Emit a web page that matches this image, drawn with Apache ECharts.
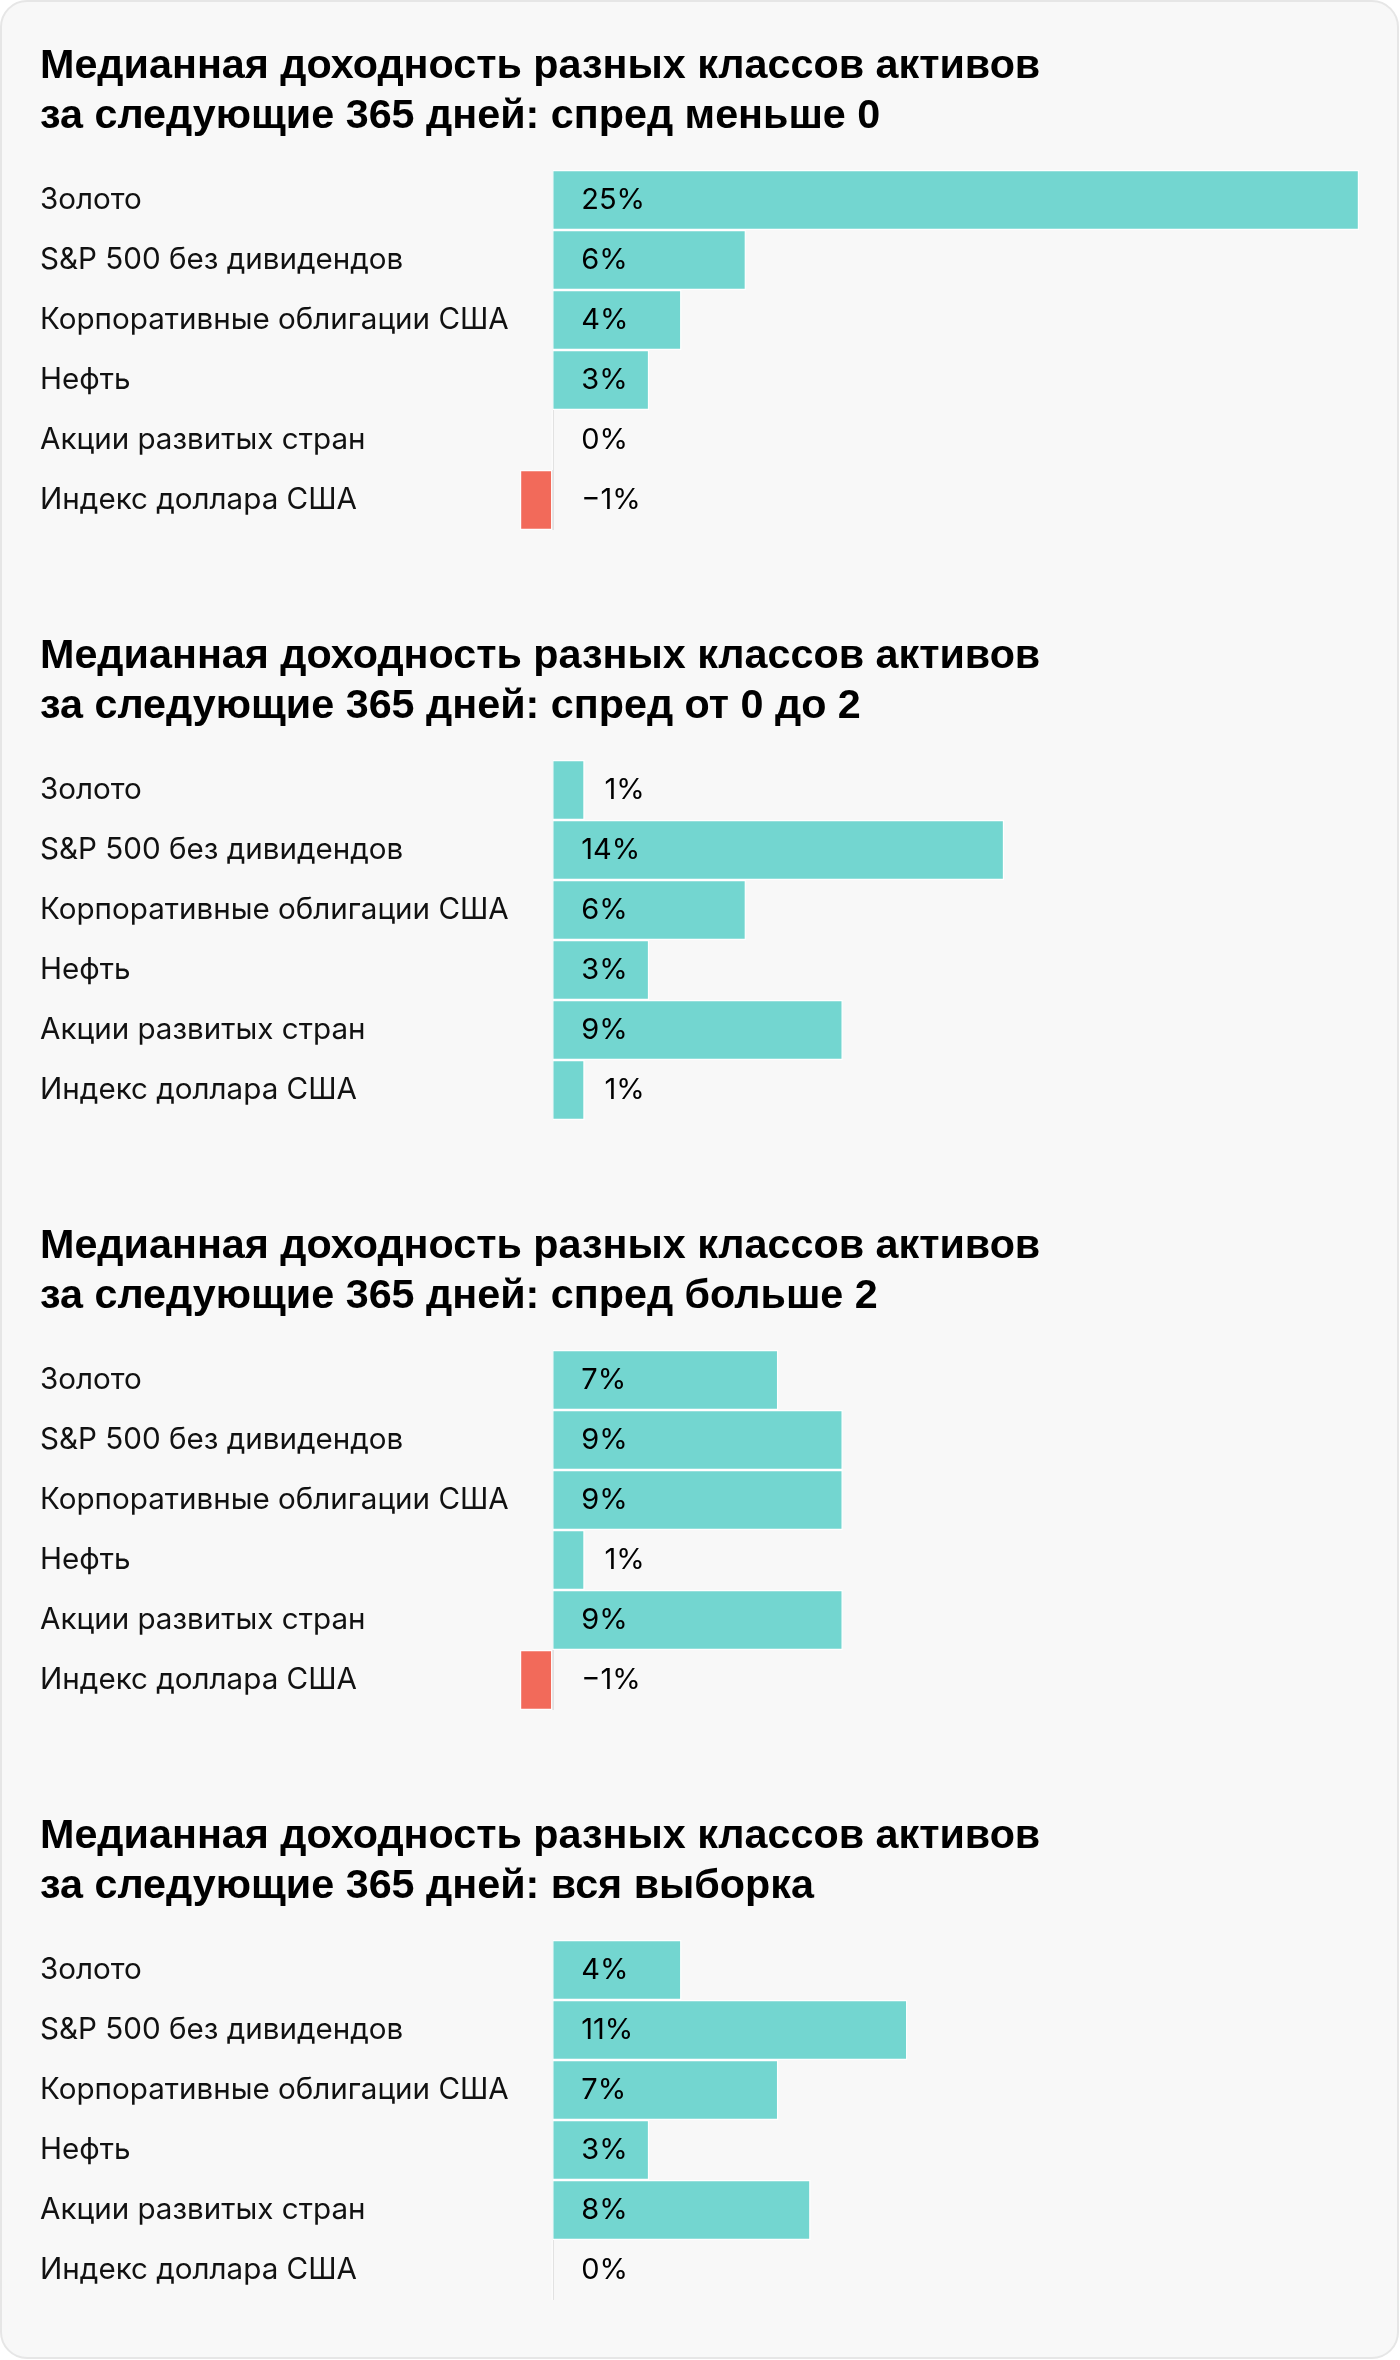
<!DOCTYPE html>
<html>
<head>
<meta charset="utf-8">
<script src="https://cdn.jsdelivr.net/npm/echarts@6/dist/echarts.min.js"></script>
<style>
  html, body { margin: 0; padding: 0; background: #ffffff; }
  #chart { width: 1400px; height: 2360px; }
</style>
</head>
<body>
<div id="chart"></div>
<script>
// ---- Data ----
const categories = [
  'Золото',
  'S&P 500 без дивидендов',
  'Корпоративные облигации США',
  'Нефть',
  'Акции развитых стран',
  'Индекс доллара США'
];
const titles = [
  'Медианная доходность разных классов активов\nза следующие 365 дней: спред меньше 0',
  'Медианная доходность разных классов активов\nза следующие 365 дней: спред от 0 до 2',
  'Медианная доходность разных классов активов\nза следующие 365 дней: спред больше 2',
  'Медианная доходность разных классов активов\nза следующие 365 дней: вся выборка'
];
const spreadBelow0 = [25, 6, 4, 3, 0, -1];
const spread0to2   = [1, 14, 6, 3, 9, 1];
const spreadAbove2 = [7, 9, 9, 1, 9, -1];
const fullSample   = [4, 11, 7, 3, 8, 0];
const panels = [spreadBelow0, spread0to2, spreadAbove2, fullSample];
const xMin = -1, xMax = 25;

// ---- Styles ----
const POS = '#73D6D0', NEG = '#F26A5A';
const LABEL_FONT = 'Inter, Roboto, "Noto Sans", sans-serif';
const TITLE_FONT = '"Liberation Sans", Arial, sans-serif';
const step = 590, gridTop0 = 170, gridH = 360, titleTop0 = 42;

const chart = echarts.init(document.getElementById('chart'), null, { renderer: 'canvas' });

const grid = [], xAxis = [], yAxis = [], series = [], title = [];
panels.forEach((vals, i) => {
  title.push({
    text: titles[i], left: 40, top: titleTop0 + i * step, padding: 0,
    textStyle: { fontFamily: TITLE_FONT, fontSize: 41.3, fontWeight: 'bold', color: '#000', lineHeight: 50 }
  });
  grid.push({ left: 520, right: 41, top: gridTop0 + i * step, height: gridH });
  xAxis.push({
    type: 'value', gridIndex: i, min: xMin, max: xMax, show: false
  });
  yAxis.push({
    type: 'category', gridIndex: i, data: categories, inverse: true,
    axisLine: { show: false }, axisTick: { show: false },
    axisLabel: { align: 'left', margin: 480, fontFamily: LABEL_FONT, fontSize: 29.6, color: '#111',
                 padding: [4, 0, 0, 0] }
  });
  series.push({
    type: 'bar', xAxisIndex: i, yAxisIndex: i, barWidth: '100%', barGap: '-100%',
    data: vals.map(v => ({ value: v, itemStyle: { color: v < 0 ? NEG : POS } })),
    itemStyle: { borderColor: '#ffffff', borderWidth: 1.2 },
    silent: true, z: 3,
    markLine: {
      silent: true, symbol: 'none', label: { show: false },
      lineStyle: { color: '#e2e2e2', width: 2, type: 'solid' },
      data: [{ xAxis: 0 }], z: 1
    }
  });
  // label carrier (transparent), anchored at the zero line or the bar end
  series.push({
    type: 'bar', xAxisIndex: i, yAxisIndex: i, barWidth: '100%', barGap: '-100%',
    silent: true, z: 4,
    itemStyle: { color: 'rgba(0,0,0,0)' },
    data: vals.map(v => {
      const narrow = v > 0 && v < 2;
      return {
        value: Math.max(v, 0),
        label: {
          show: true,
          position: narrow ? 'right' : 'insideLeft',
          distance: narrow ? 20 : 29,
          formatter: (v < 0 ? '\u2212' + Math.abs(v) : String(v)) + '%',
          fontFamily: LABEL_FONT, fontSize: 29, color: '#000',
          padding: [4, 0, 0, 0]
        }
      };
    })
  });
});

chart.setOption({
  animation: false,
  graphic: [{
    type: 'rect', z: -10, silent: true,
    shape: { x: 1, y: 1, width: 1397, height: 2357, r: 26 },
    style: { fill: '#f8f8f8', stroke: '#e6e6e6', lineWidth: 2 }
  }],
  title, grid, xAxis, yAxis, series
});
</script>
</body>
</html>
